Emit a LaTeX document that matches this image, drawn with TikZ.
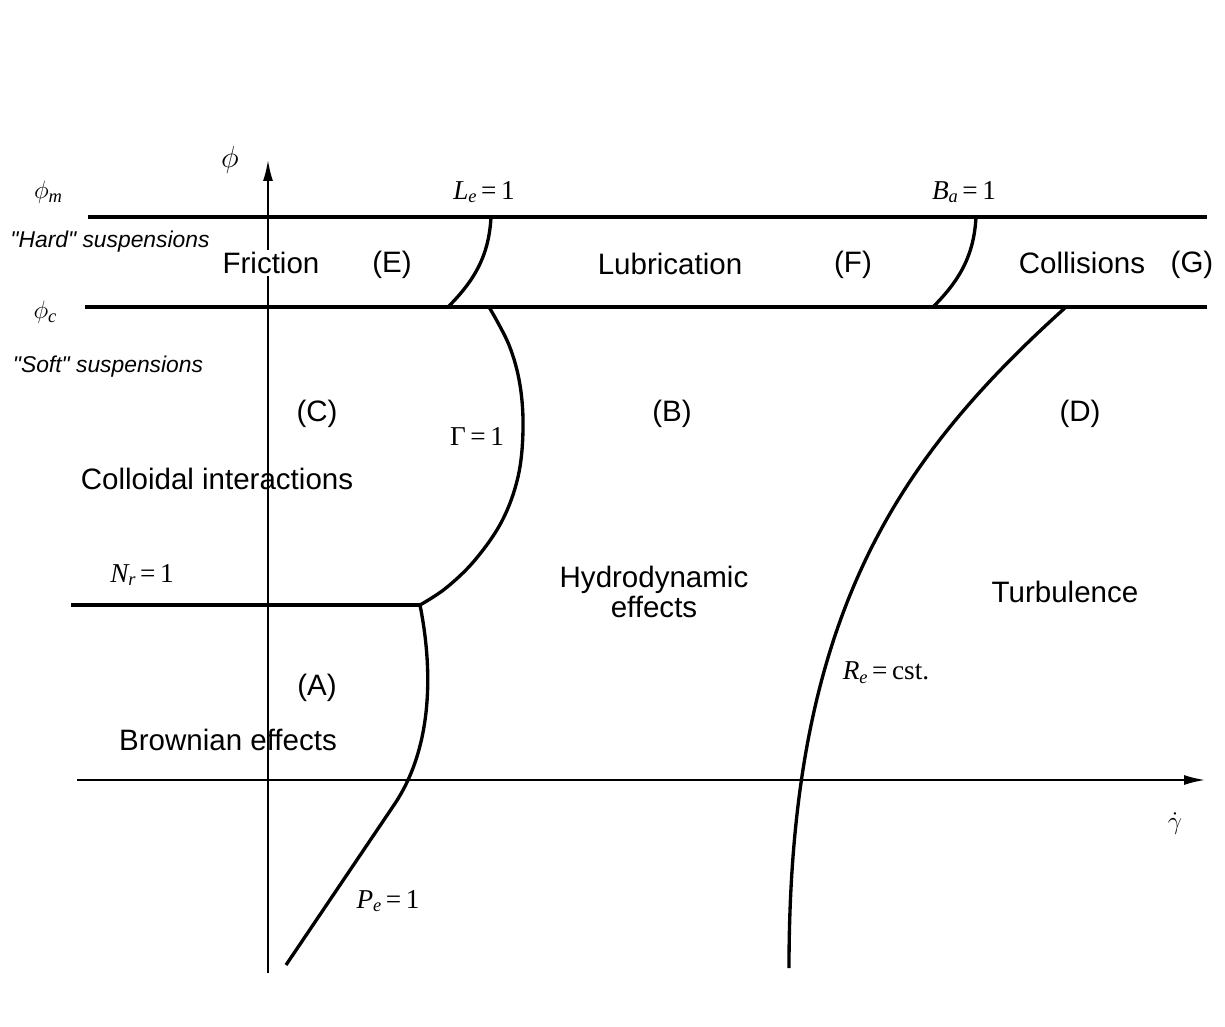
\documentclass[tikz,border=0pt]{standalone}
\usepackage{fontspec}
\newfontfamily\labfont{Liberation Sans}
\newfontfamily\serf{Liberation Serif}
\newcommand{\lsub}[1]{\raisebox{-0.3ex}{\fontsize{10.5}{12}\selectfont #1}}
\usetikzlibrary{arrows.meta}
\begin{document}
\begin{tikzpicture}[x=0.02cm,y=-0.02cm,
  lab/.style={font=\labfont\fontsize{16.8}{20}\selectfont, inner sep=1pt},
  sus/.style={font=\labfont\itshape\fontsize{13}{15}\selectfont, inner sep=1pt},
  mth/.style={font=\serf\fontsize{15.5}{18}\selectfont, inner sep=1pt},
  level/.style={line width=2pt},
  bound/.style={line width=1.9pt},
  axisline/.style={line width=1pt, -{Latex[length=0.42cm,width=0.2cm]}},
]
\useasboundingbox[fill=white] (0,0) rectangle (1225,1027);

% axes
\coordinate (yb) at (268,973);
\coordinate (yt) at (268,160);
\coordinate (xl) at (77,780);
\coordinate (xr) at (1205,780);
\draw[axisline] (yb) -- (yt);
\draw[axisline] (xl) -- (xr);

% level lines
\coordinate (ml) at (88,217);
\coordinate (mr) at (1207,217);
\coordinate (cl) at (85,307);
\coordinate (cr) at (1207,307);
\coordinate (nl) at (71,605);
\coordinate (nr) at (420,605);
\draw[level] (ml) -- (mr);
\draw[level] (cl) -- (cr);
\draw[line width=2.4pt] (nl) -- (nr);

% boundaries
\coordinate (leT) at (491,217);
\coordinate (leB) at (448,307);
\draw[bound] (leT) .. controls (489,255) and (475,280) .. (leB);
\coordinate (baT) at (976,217);
\coordinate (baB) at (933,307);
\draw[bound] (baT) .. controls (974,255) and (960,280) .. (baB);
\coordinate (gT) at (489,307);
\draw[bound] plot[smooth, tension=0.6] coordinates {(gT) (509,345) (520,385) (523,430) (518,477) (502,521) (475,560) (446,588) (nr)};
\coordinate (peJ) at (394,805);
\coordinate (peB) at (286,965);
\draw[bound] (nr) .. controls (432,665) and (434.6,745) .. (peJ) -- (peB);
\coordinate (reT) at (1066,307);
\coordinate (reB) at (789,968);
\draw[bound] (reT) .. controls (896,460) and (789,618) .. (reB);

% axis labels
\node[font=\fontsize{16}{18}\selectfont, inner sep=1pt] (phi) at (230,160) {$\phi$};
\node[mth] (phim) at (48,192) {$\phi$\lsub{\itshape m}};
\node[mth] (phic) at (45,312) {$\phi$\lsub{\itshape c}};
\node[font=\fontsize{15}{18}\selectfont, inner sep=1pt] (gdot) at (1175,824) {$\dot\gamma$};

% boundary labels
\node[mth] (le) at (484,192) {\itshape L\lsub{e}\,\upshape=\,1};
\node[mth] (ba) at (964,192) {\itshape B\lsub{a}\,\upshape=\,1};
\node[mth] (gam) at (477,437) {Γ\,=\,1};
\node[mth] (nrl) at (142,575) {\itshape N\lsub{r}\,\upshape=\,1};
\node[mth] (rel) at (886,673) {\itshape R\lsub{e}\,\upshape=\,cst.};
\node[mth] (pel) at (388,901) {\itshape P\lsub{e}\,\upshape=\,1};

% suspension labels
\node[sus] (hard) at (110,242) {"Hard" suspensions};
\node[sus] (soft) at (108,367) {"Soft" suspensions};

% regime labels
\node[lab, fill=white] (fric) at (271,263) {Friction};
\node[lab] (E) at (392,265) {(E)};
\node[lab] (lub) at (670,264) {Lubrication};
\node[lab] (F) at (853,265) {(F)};
\node[lab] (coll) at (1082,263) {Collisions};
\node[lab] (G) at (1192,265) {(G)};
\node[lab] (C) at (317,414) {(C)};
\node[lab] (B) at (672,414) {(B)};
\node[lab] (D) at (1080,414) {(D)};
\node[lab] (coli) at (217,479) {Colloidal interactions};
\node[lab, align=center] (hyd) at (654,592) {Hydrodynamic\\[-3pt]effects};
\node[lab] (turb) at (1065,592) {Turbulence};
\node[lab] (A) at (317,688) {(A)};
\node[lab] (brown) at (228,740) {Brownian effects};
\end{tikzpicture}
\end{document}
